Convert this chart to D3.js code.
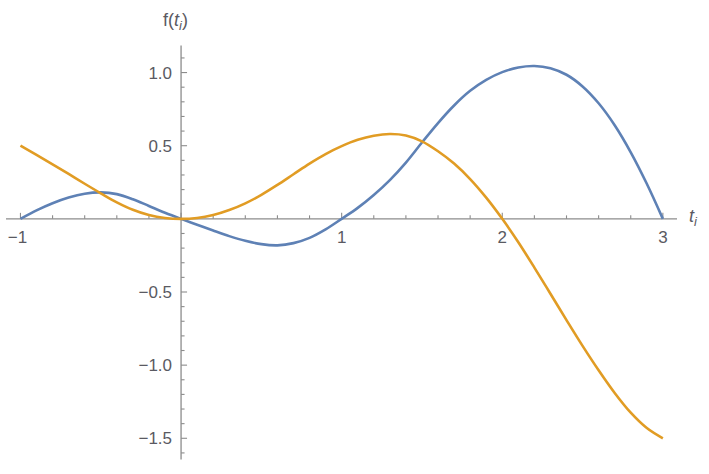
<!DOCTYPE html>
<html>
<head>
<meta charset="utf-8">
<script src="https://cdn.jsdelivr.net/npm/d3@7"></script>
<style>
  html, body { margin: 0; padding: 0; background: #fff; }
  svg { display: block; }
  text { font-family: "Liberation Sans", Arial, sans-serif; fill: #5a5a62; }
</style>
</head>
<body>
<svg id="chart" width="709" height="474"></svg>
<script>
// ---- data ----
const tValues = [-1.0, -0.9, -0.8, -0.7, -0.6, -0.5, -0.4, -0.3, -0.2, -0.1,
                 0.0, 0.1, 0.2, 0.3, 0.4, 0.5, 0.6, 0.7, 0.8, 0.9,
                 1.0, 1.1, 1.2, 1.3, 1.4, 1.5, 1.6, 1.7, 1.8, 1.9,
                 2.0, 2.1, 2.2, 2.3, 2.4, 2.5, 2.6, 2.7, 2.8, 2.9, 3.0];
const blueValues = [0, 0.058, 0.107, 0.146, 0.172, 0.181, 0.169, 0.134, 0.088, 0.042,
                    0, -0.040, -0.080, -0.118, -0.150, -0.173, -0.181, -0.166, -0.130, -0.072,
                    0, 0.075, 0.163, 0.265, 0.385, 0.522, 0.655, 0.775, 0.875, 0.950,
                    1.003, 1.035, 1.045, 1.030, 0.985, 0.905, 0.790, 0.640, 0.455, 0.240, 0];
const orangeValues = [0.500, 0.437, 0.373, 0.307, 0.240, 0.175, 0.113, 0.062, 0.026, 0.006,
                      0, 0.006, 0.026, 0.060, 0.106, 0.164, 0.232, 0.305, 0.378, 0.443,
                      0.497, 0.540, 0.568, 0.580, 0.570, 0.530, 0.462, 0.378, 0.272, 0.145,
                      0, -0.160, -0.333, -0.512, -0.692, -0.868, -1.035, -1.190, -1.325, -1.430, -1.500];
const xTickLabels = [-1, 1, 2, 3];
const yTickLabels = [-1.5, -1.0, -0.5, 0.5, 1.0];

const svg = d3.select("#chart");
const x = d3.scaleLinear().domain([-1.09, 3.088]).range([6, 677]);
const y = d3.scaleLinear().domain([-1.645, 1.185]).range([459.5, 45.5]);

const axisColor = "#8c8c8c";
const fmtNum = v => (v < 0 ? "\u2212" : "") + Math.abs(v).toString();

// x axis
svg.append("line").attr("x1", x.range()[0]).attr("x2", x.range()[1])
  .attr("y1", y(0)).attr("y2", y(0)).attr("stroke", axisColor).attr("stroke-width", 1.3);
// y axis
svg.append("line").attr("x1", x(0)).attr("x2", x(0))
  .attr("y1", y.range()[0]).attr("y2", y.range()[1]).attr("stroke", axisColor).attr("stroke-width", 1.3);

// x ticks (every 0.2, majors every 1)
const xTicks = d3.range(-10, 31, 2).map(d => d / 10);
svg.append("g").selectAll("line").data(xTicks).join("line")
  .attr("x1", d => x(d)).attr("x2", d => x(d))
  .attr("y1", y(0)).attr("y2", d => y(0) - (Math.abs(d - Math.round(d)) < 1e-9 ? 6 : 3.5))
  .attr("stroke", axisColor).attr("stroke-width", 1.1);

// y ticks (every 0.1, majors every 0.5)
const yTicks = d3.range(-16, 12, 1).map(d => d / 10);
svg.append("g").selectAll("line").data(yTicks).join("line")
  .attr("y1", d => y(d)).attr("y2", d => y(d))
  .attr("x1", x(0)).attr("x2", d => x(0) + (Math.abs(d * 2 - Math.round(d * 2)) < 1e-9 ? 6 : 3.5))
  .attr("stroke", axisColor).attr("stroke-width", 1.1);

// x tick labels
svg.append("g").selectAll("text").data(xTickLabels).join("text")
  .attr("x", d => x(d) - (d < 0 ? 3 : 0)).attr("y", y(0) + 24)
  .attr("text-anchor", "middle").attr("font-size", 17)
  .text(d => fmtNum(d));

// y tick labels
svg.append("g").selectAll("text").data(yTickLabels).join("text")
  .attr("x", x(0) - 9).attr("y", d => y(d) + 6)
  .attr("text-anchor", "end").attr("font-size", 17)
  .text(d => fmtNum(d) + (Number.isInteger(d) ? ".0" : ""));

// axis labels
const fl = svg.append("text").attr("x", 163).attr("y", 26).attr("font-size", 18);
fl.append("tspan").text("f(");
fl.append("tspan").attr("font-style", "italic").text("t");
fl.append("tspan").attr("font-style", "italic").attr("font-size", 13).attr("dy", 4).text("i");
fl.append("tspan").attr("dy", -4).text(")");

const tl = svg.append("text").attr("x", 689).attr("y", 222).attr("font-size", 18);
tl.append("tspan").attr("font-style", "italic").text("t");
tl.append("tspan").attr("font-style", "italic").attr("font-size", 13).attr("dy", 4).text("i");

// curves
const line = d3.line().x(d => x(d[0])).y(d => y(d[1])).curve(d3.curveCatmullRom.alpha(0.5));
const blueData = tValues.map((t, i) => [t, blueValues[i]]);
const orangeData = tValues.map((t, i) => [t, orangeValues[i]]);

svg.append("path").datum(blueData).attr("d", line)
  .attr("fill", "none").attr("stroke", "#5E81B5").attr("stroke-width", 2.6);
svg.append("path").datum(orangeData).attr("d", line)
  .attr("fill", "none").attr("stroke", "#E19C24").attr("stroke-width", 2.6);
</script>
</body>
</html>
